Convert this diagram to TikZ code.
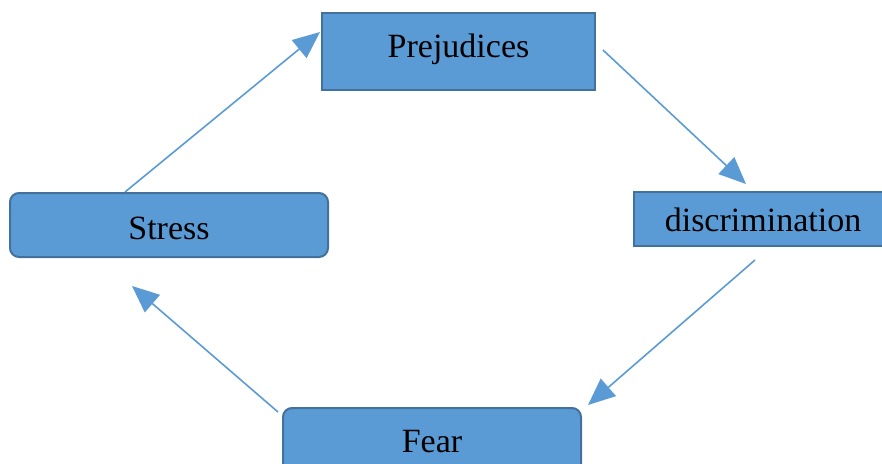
\documentclass[tikz,border=0pt]{standalone}
\usepackage{fontspec}
\setmainfont{Liberation Serif}
\usetikzlibrary{arrows.meta}
\definecolor{boxfill}{HTML}{5B9BD5}
\definecolor{boxline}{HTML}{41719C}
\begin{document}
\begin{tikzpicture}[x=1pt,y=-1pt,
  sqbox/.style={draw=boxline,fill=boxfill,line width=2pt,inner sep=0pt},
  rbox/.style={sqbox,rounded corners=9pt},
  lbl/.style={font=\fontsize{34}{38}\selectfont,text=black},
  conn/.style={draw=boxfill,line width=1.6pt,-{Triangle[length=27pt,width=23pt]}}]
\useasboundingbox (0,0) rectangle (882,463);
\begin{scope}
\clip (0,0) rectangle (882,463);
\draw[sqbox] (322,13) rectangle (595,90);
\node[lbl] (prej) at (458.5,49) {Prejudices};
\draw[sqbox] (634,192) rectangle (895,246);
\node[lbl] (disc) at (763,220) {discrimination};
\draw[rbox] (10,193) rectangle (328,257);
\node[lbl] (stress) at (169,228) {Stress};
\draw[rbox] (283,408) rectangle (581,480);
\node[lbl] (fear) at (432,442) {Fear};
\end{scope}
\coordinate (s1) at (125,192); \coordinate (e1) at (320,32);
\coordinate (s2) at (603,50);  \coordinate (e2) at (746,184);
\coordinate (s3) at (755,260); \coordinate (e3) at (588,405);
\coordinate (s4) at (278,412); \coordinate (e4) at (132,286);
\draw[conn] (s1) -- (e1);
\draw[conn] (s2) -- (e2);
\draw[conn] (s3) -- (e3);
\draw[conn] (s4) -- (e4);
\end{tikzpicture}
\end{document}
